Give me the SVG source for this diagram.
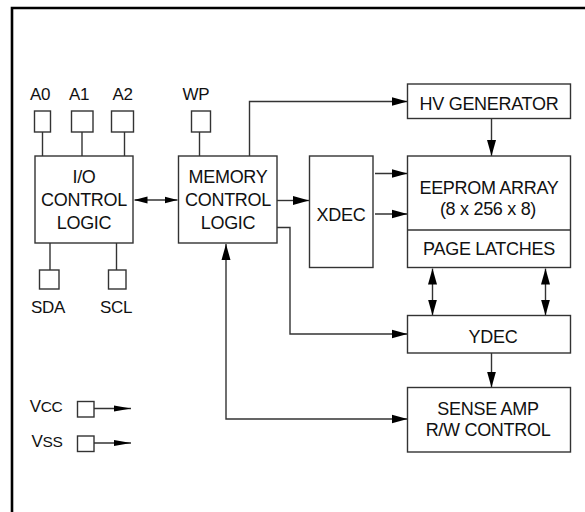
<svg xmlns="http://www.w3.org/2000/svg" width="585" height="512" viewBox="0 0 585 512">
<defs>
<marker id="ah" markerUnits="userSpaceOnUse" markerWidth="16" markerHeight="10" refX="16" refY="5" orient="auto-start-reverse">
<path d="M0,0.5 L16,5 L0,9.5 z" fill="#000"/>
</marker>
<marker id="as" markerUnits="userSpaceOnUse" markerWidth="13" markerHeight="8" refX="13" refY="4" orient="auto-start-reverse">
<path d="M0,0.5 L13,4 L0,7.5 z" fill="#000"/>
</marker>
<marker id="ap" markerUnits="userSpaceOnUse" markerWidth="17" markerHeight="8" refX="17" refY="4" orient="auto">
<path d="M0,1 L17,4 L0,7 z" fill="#000"/>
</marker>
<style>
.box{fill:#fff;stroke:#333;stroke-width:1.4}
.ln{fill:none;stroke:#333;stroke-width:1.4}
.t{font-family:"Liberation Sans",Arial,sans-serif;font-size:18px;letter-spacing:-0.3px;fill:#111;text-anchor:middle}
.l{font-family:"Liberation Sans",Arial,sans-serif;font-size:17px;letter-spacing:-0.3px;fill:#111;text-anchor:middle}
</style>
</defs>
<rect width="585" height="512" fill="#fff"/>
<path d="M12,514 V8 H587" fill="none" stroke="#000" stroke-width="2.6"/>

<g id="connectors">
<line class="ln" x1="42.5" y1="132" x2="42.5" y2="156"/>
<line class="ln" x1="82" y1="132" x2="82" y2="156"/>
<line class="ln" x1="124.5" y1="132" x2="124.5" y2="156"/>
<line class="ln" x1="199.5" y1="132" x2="199.5" y2="156"/>
<line class="ln" x1="50" y1="243" x2="50" y2="270"/>
<line class="ln" x1="116.5" y1="243" x2="116.5" y2="270"/>
<line class="ln" x1="94" y1="408.5" x2="131" y2="408.5" marker-end="url(#ap)"/>
<line class="ln" x1="94" y1="443" x2="131" y2="443" marker-end="url(#ap)"/>
<line class="ln" x1="134.5" y1="200" x2="177.5" y2="200" marker-start="url(#as)" marker-end="url(#as)"/>
<line class="ln" x1="277" y1="200.5" x2="309" y2="200.5" marker-end="url(#ah)"/>
<path class="ln" d="M249.5,156 V101.5 H407.5" marker-end="url(#ah)"/>
<line class="ln" x1="491.5" y1="118.5" x2="491.5" y2="156" marker-end="url(#ah)"/>
<line class="ln" x1="375" y1="173.5" x2="407.5" y2="173.5" marker-end="url(#ah)"/>
<line class="ln" x1="375" y1="214" x2="407.5" y2="214" marker-end="url(#ah)"/>
<path class="ln" d="M277,227.5 H290 V334 H407.5" marker-end="url(#ah)"/>
<line class="ln" x1="432.5" y1="268.5" x2="432.5" y2="315.5" marker-start="url(#ah)" marker-end="url(#ah)"/>
<line class="ln" x1="545.5" y1="268.5" x2="545.5" y2="315.5" marker-start="url(#ah)" marker-end="url(#ah)"/>
<line class="ln" x1="491.5" y1="353" x2="491.5" y2="387.5" marker-end="url(#ah)"/>
<path class="ln" d="M226,244 V419 H407.5" marker-start="url(#ah)" marker-end="url(#ah)"/>
</g>

<g id="pin-a0"><rect class="box" x="34.5" y="111" width="16" height="21"/><text class="l" x="40" y="100">A0</text></g>
<g id="pin-a1"><rect class="box" x="71.5" y="111" width="21.5" height="21"/><text class="l" x="79" y="100">A1</text></g>
<g id="pin-a2"><rect class="box" x="111.5" y="111" width="22" height="21"/><text class="l" x="122.5" y="100">A2</text></g>
<g id="pin-wp"><rect class="box" x="191.5" y="111" width="19" height="21"/><text class="l" x="196" y="100">WP</text></g>
<g id="pin-sda"><rect class="box" x="39.5" y="270" width="19.5" height="19"/><text class="l" x="48" y="313">SDA</text></g>
<g id="pin-scl"><rect class="box" x="108.5" y="270" width="17.5" height="19"/><text class="l" x="116" y="313">SCL</text></g>
<g id="pin-vcc"><rect class="box" x="77.5" y="401.5" width="16.5" height="15.5"/><text class="l" x="62.5" y="411.5" style="text-anchor:end">V<tspan font-size="15.5">CC</tspan></text></g>
<g id="pin-vss"><rect class="box" x="77.5" y="436" width="16.5" height="15.5"/><text class="l" x="62.5" y="446.5" style="text-anchor:end">V<tspan font-size="15.5">SS</tspan></text></g>

<g id="io-control"><rect class="box" x="35" y="156" width="98" height="87"/>
<text class="t" x="84" y="183">I/O</text><text class="t" x="84" y="206">CONTROL</text><text class="t" x="84" y="229">LOGIC</text></g>
<g id="memory-control"><rect class="box" x="178.5" y="156" width="98.5" height="87"/>
<text class="t" x="228" y="183">MEMORY</text><text class="t" x="228" y="206">CONTROL</text><text class="t" x="228" y="229">LOGIC</text></g>
<g id="xdec"><rect class="box" x="309.5" y="156" width="63.5" height="111.5"/><text class="t" x="341" y="221">XDEC</text></g>
<g id="hv-generator"><rect class="box" x="407.5" y="84" width="163" height="34.5"/><text class="t" x="489" y="109.5">HV GENERATOR</text></g>
<g id="eeprom-array"><rect class="box" x="407.5" y="156" width="163" height="111.5"/>
<line class="ln" x1="407.5" y1="230" x2="570.5" y2="230"/>
<text class="t" x="489" y="193.5">EEPROM ARRAY</text><text class="t" x="488" y="215">(8 x 256 x 8)</text><text class="t" x="489" y="255">PAGE LATCHES</text></g>
<g id="ydec"><rect class="box" x="407.5" y="315.5" width="163" height="37.5"/><text class="t" x="493" y="342.5">YDEC</text></g>
<g id="sense-amp"><rect class="box" x="407.5" y="387.5" width="163" height="64.5"/>
<text class="t" x="488" y="415">SENSE AMP</text><text class="t" x="488" y="436">R/W CONTROL</text></g>
</svg>
